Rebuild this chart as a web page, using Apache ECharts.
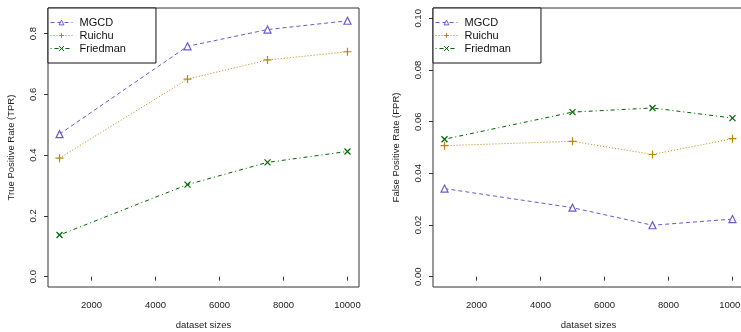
<!DOCTYPE html>
<html><head><meta charset="utf-8">
<script src="https://cdn.jsdelivr.net/npm/echarts@6/dist/echarts.min.js"></script>
<style>html,body{margin:0;padding:0;background:#fff}#c{width:741px;height:332px}</style>
</head><body><div id="c"></div>
<script>
const sizes = [1000, 5000, 7500, 10000];
const seriesNames = ['MGCD', 'Ruichu', 'Friedman'];
const tprMGCD = [0.469, 0.758, 0.813, 0.842];
const tprRuichu = [0.390, 0.650, 0.713, 0.740];
const tprFriedman = [0.137, 0.303, 0.376, 0.412];
const fprMGCD = [0.0341, 0.0267, 0.0199, 0.0223];
const fprRuichu = [0.0507, 0.0524, 0.0473, 0.0534];
const fprFriedman = [0.0532, 0.0637, 0.0653, 0.0614];
const xTicks = [2000, 4000, 6000, 8000, 10000];
const tprTicks = [0, 0.2, 0.4, 0.6, 0.8];
const fprTicks = [0, 0.02, 0.04, 0.06, 0.08, 0.10];

const FONT = 'Liberation Sans';
const styles = {
  MGCD: {color: '#6a5acd', dash: [4, 3], symbol: 'triangle', size: 7, fill: '#fff'},
  Ruichu: {color: '#b8860b', dash: [1, 2], symbol: 'path://M5,0L5,10M0,5L10,5', size: 8, fill: 'none'},
  Friedman: {color: '#006400', dash: [1, 3, 4, 3], symbol: 'path://M0,0L10,10M10,0L0,10', size: 6, fill: 'none'}
};
function mk(name, vals, idx) {
  const s = styles[name];
  return {
    name: name, type: 'line', xAxisIndex: idx, yAxisIndex: idx,
    data: sizes.map((x, i) => [x, vals[i]]),
    symbol: s.symbol, symbolSize: s.size, showAllSymbol: true,
    lineStyle: {color: s.color, width: 1, type: s.dash},
    itemStyle: {color: s.fill, borderColor: s.color, borderWidth: 1.2},
    emphasis: {disabled: true}, animation: false
  };
}
function xAxis(idx) {
  return {
    type: 'value', gridIndex: idx, min: 640, max: 10360,
    name: 'dataset sizes', nameLocation: 'middle', nameGap: 33, nameMoveOverlap: false,
    nameTextStyle: {fontFamily: FONT, fontSize: 9.5, color: '#222'},
    axisLine: {show: false}, splitLine: {show: false},
    axisTick: {show: true, length: 4, customValues: xTicks, lineStyle: {color: '#333'}},
    axisLabel: {customValues: xTicks, fontFamily: FONT, fontSize: 9.5, color: '#222', margin: 13,
      formatter: v => String(v)}
  };
}
function yAxis(idx, min, max, ticks, name, dec) {
  return {
    type: 'value', gridIndex: idx, min: min, max: max,
    name: name, nameLocation: 'middle', nameGap: 32, nameMoveOverlap: false,
    nameTextStyle: {fontFamily: FONT, fontSize: 9.5, color: '#222'},
    axisLine: {show: false}, splitLine: {show: false},
    axisTick: {show: true, length: 4, customValues: ticks, lineStyle: {color: '#333'}},
    axisLabel: {customValues: ticks, rotate: 90, fontFamily: FONT, fontSize: 9.5, color: '#222', margin: 10,
      formatter: v => v.toFixed(dec)}
  };
}
function legend(left) {
  return {
    data: seriesNames, left: left, top: 8, orient: 'vertical',
    itemWidth: 22, itemHeight: 6, itemGap: 2,
    padding: [9, 30, 9, 2],
    lineStyle: {width: 1},
    itemStyle: {borderWidth: 1},
    borderColor: '#111', borderWidth: 1, backgroundColor: '#fff',
    textStyle: {fontFamily: FONT, fontSize: 11, color: '#111', padding: [0, 0, 0, 2]},
    selectedMode: false
  };
}
const chart = echarts.init(document.getElementById('c'));
chart.setOption({
  backgroundColor: '#fff',
  animation: false,
  grid: [
    {left: 48, top: 8, width: 311, height: 279, show: true, borderColor: '#333', borderWidth: 1, backgroundColor: 'transparent', outerBoundsMode: 'none', containLabel: false},
    {left: 433, top: 8, width: 311, height: 279, show: true, borderColor: '#333', borderWidth: 1, backgroundColor: 'transparent', outerBoundsMode: 'none', containLabel: false}
  ],
  xAxis: [xAxis(0), xAxis(1)],
  yAxis: [
    yAxis(0, -0.034, 0.884, tprTicks, 'True Positive Rate (TPR)', 1),
    yAxis(1, -0.004, 0.104, fprTicks, 'False Positive Rate (FPR)', 2)
  ],
  legend: [legend(48), legend(433)],
  series: [
    mk('MGCD', tprMGCD, 0), mk('Ruichu', tprRuichu, 0), mk('Friedman', tprFriedman, 0),
    mk('MGCD', fprMGCD, 1), mk('Ruichu', fprRuichu, 1), mk('Friedman', fprFriedman, 1)
  ]
});
</script></body></html>
